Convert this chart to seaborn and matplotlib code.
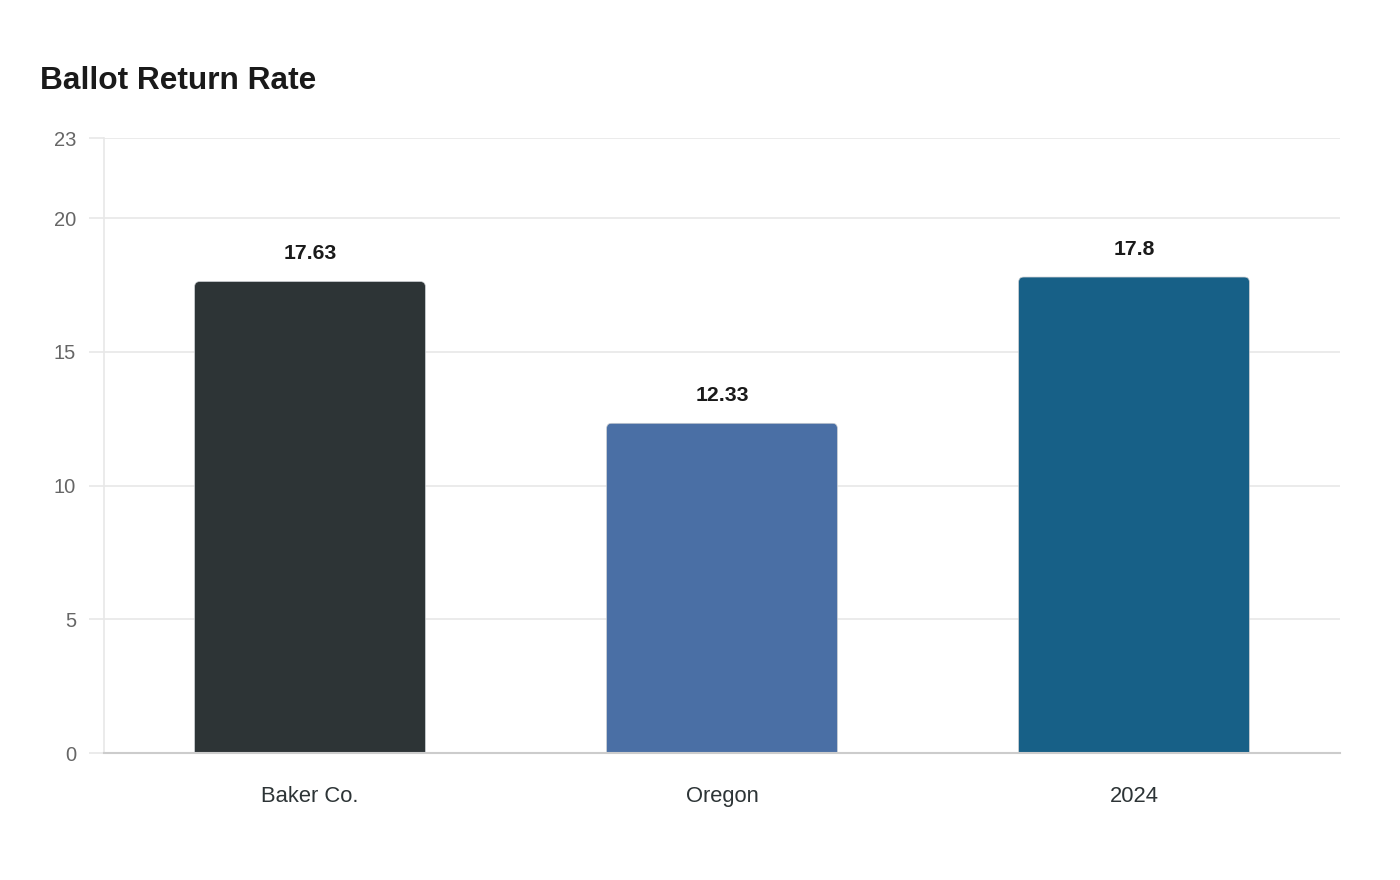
import matplotlib
matplotlib.use("Agg")
import matplotlib.pyplot as plt
from matplotlib.patches import FancyBboxPatch
import seaborn as sns
import pandas as pd

# dados
categories = ["Baker Co.", "Oregon", "2024"]
values = [17.63, 12.33, 17.8]
value_labels = ["17.63", "12.33", "17.8"]
bar_colors = ["#2d3436", "#4a6fa5", "#176087"]
y_ticks = [0, 5, 10, 15, 20, 23]

df = pd.DataFrame({"category": categories, "value": values})

sns.set_theme(style="white")
plt.rcParams["font.family"] = ["Liberation Sans", "DejaVu Sans"]

fig = plt.figure(figsize=(14, 8.8), dpi=100)
ax = fig.add_axes([104 / 1400, 1 - 753 / 880, 1236 / 1400, 615 / 880])

sns.barplot(data=df, x="category", y="value", hue="category", palette=bar_colors,
            width=0.56, saturation=1, legend=False, ax=ax)

ax.set_xlim(-0.5, 2.5)
ax.set_ylim(0, 23)

# trocar as barras por retangulos com cantos arredondados
px_x = 3 / 1236   # unidades de dados por pixel
px_y = 23 / 615
for p in list(ax.patches):
    x0, w, h = p.get_x(), p.get_width(), p.get_height()
    color = p.get_facecolor()
    p.set_visible(False)
    r = 5 * px_x
    box = FancyBboxPatch((x0, -1), w, h + 1,
                         boxstyle=f"round,pad=0,rounding_size={r}",
                         mutation_aspect=px_y / px_x,
                         facecolor=color, edgecolor="#c8ccd0", linewidth=0.5,
                         zorder=2, clip_on=True)
    ax.add_patch(box)

for i, (v, lab) in enumerate(zip(values, value_labels)):
    ax.annotate(lab, (i, v), xytext=(0, 28), textcoords="offset pixels",
                ha="center", va="center", fontsize=15.3, fontweight="bold",
                color="#1a1a1a")

ax.set_yticks(y_ticks)
ax.set_yticklabels([str(t) for t in y_ticks])
ax.yaxis.grid(True, color="#e8e8e8", linewidth=1.2)
ax.set_axisbelow(True)
ax.tick_params(axis="y", length=11, width=1.2, color="#e8e8e8", pad=9,
               labelsize=14.5, labelcolor="#666666", left=True)
ax.tick_params(axis="x", length=0, pad=24, labelsize=15.8, labelcolor="#2d3436")
ax.set_xlabel("")
ax.set_ylabel("")

for s in ["top", "right"]:
    ax.spines[s].set_visible(False)
ax.spines["left"].set_color("#e8e8e8")
ax.spines["left"].set_linewidth(1.2)
ax.spines["bottom"].set_color("#cccccc")
ax.spines["bottom"].set_linewidth(1.5)

fig.text(40 / 1400, 1 - 81 / 880, "Ballot Return Rate", fontsize=22.8, fontweight="bold",
         color="#1a1a1a", ha="left", va="center")

fig.savefig("out.png", dpi=100, facecolor="white")
